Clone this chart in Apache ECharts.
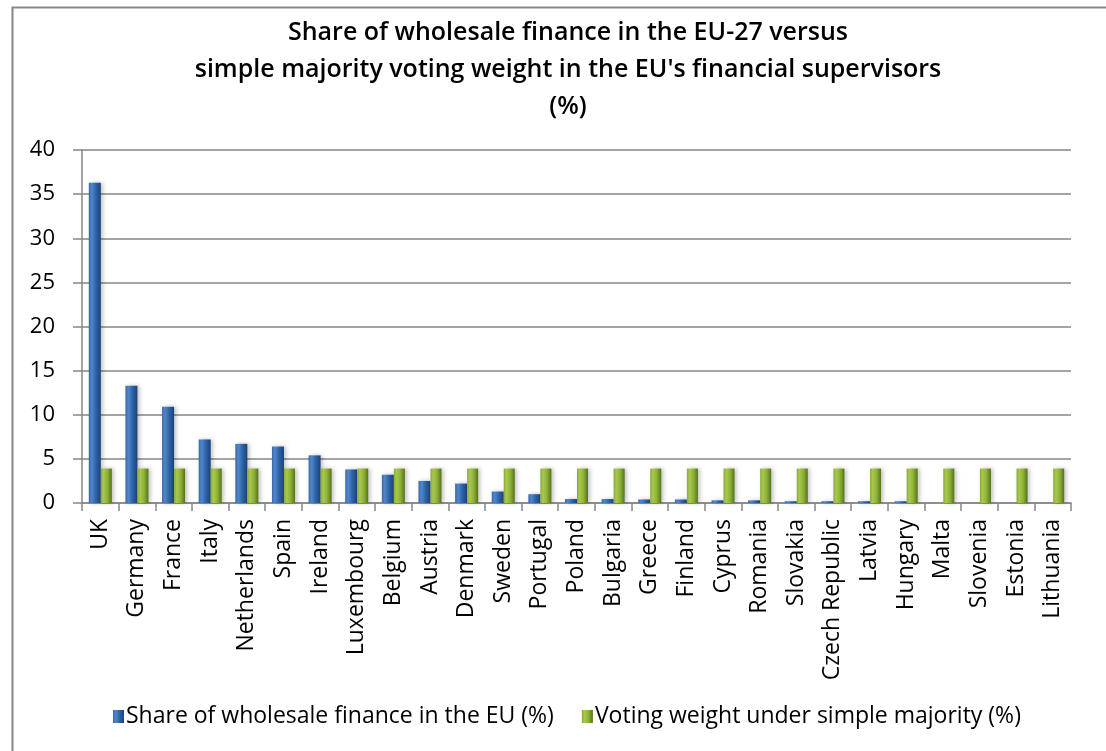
<!DOCTYPE html>
<html>
<head>
<meta charset="utf-8">
<script src="https://cdn.jsdelivr.net/npm/echarts@6/dist/echarts.min.js"></script>
<style>
  html, body { margin: 0; padding: 0; background: #ffffff; }
  #chart { width: 1106px; height: 751px; }
</style>
</head>
<body>
<div id="chart"></div>
<script>
// EU-27 member states, ordered by share of wholesale finance
const countries = ['UK', 'Germany', 'France', 'Italy', 'Netherlands', 'Spain', 'Ireland',
  'Luxembourg', 'Belgium', 'Austria', 'Denmark', 'Sweden', 'Portugal', 'Poland', 'Bulgaria',
  'Greece', 'Finland', 'Cyprus', 'Romania', 'Slovakia', 'Czech Republic', 'Latvia', 'Hungary',
  'Malta', 'Slovenia', 'Estonia', 'Lithuania'];

// Share of wholesale finance in the EU (%)
const wholesaleShare = [36.3, 13.3, 10.9, 7.2, 6.7, 6.4, 5.4, 3.8, 3.2, 2.5, 2.2, 1.3, 1.0,
  0.45, 0.45, 0.4, 0.4, 0.3, 0.3, 0.2, 0.2, 0.2, 0.2, 0, 0, 0, 0];

// Voting weight under simple majority (%) — one vote per member state
const votingWeight = [3.9, 3.9, 3.9, 3.9, 3.9, 3.9, 3.9, 3.9, 3.9, 3.9, 3.9, 3.9, 3.9,
  3.9, 3.9, 3.9, 3.9, 3.9, 3.9, 3.9, 3.9, 3.9, 3.9, 3.9, 3.9, 3.9, 3.9];

const yTicks = [0, 5, 10, 15, 20, 25, 30, 35, 40];

const seriesNames = ['Share of wholesale finance in the EU (%)', 'Voting weight under simple majority (%)'];

const FONT = '"Open Sans"';

function cylinder(edge, light, mid, dark) {
  return new echarts.graphic.LinearGradient(0, 0, 1, 0, [
    { offset: 0, color: edge },
    { offset: 0.25, color: light },
    { offset: 0.6, color: mid },
    { offset: 1, color: dark }
  ]);
}

const chart = echarts.init(document.getElementById('chart'), null, { renderer: 'canvas' });

chart.setOption({
  backgroundColor: '#ffffff',
  animation: false,
  title: {
    text: 'Share of wholesale finance in the EU-27 versus\nsimple majority voting weight in the EU\'s financial supervisors\n(%)',
    left: 563,
    textAlign: 'center',
    top: 9,
    textStyle: {
      fontFamily: FONT,
      fontSize: 25,
      fontWeight: 600,
      color: '#000000',
      lineHeight: 37
    }
  },
  legend: {
    left: 108,
    top: 700,
    itemWidth: 11,
    itemHeight: 13,
    itemGap: 28,
    icon: 'rect',
    textStyle: { fontFamily: FONT, fontSize: 23, color: '#000000', padding: [0, 0, 0, -3] },
    data: seriesNames
  },
  grid: {
    left: 82,
    right: 35,
    top: 150,
    bottom: 248,
    containLabel: false
  },
  xAxis: {
    type: 'category',
    data: countries,
    axisLine: { lineStyle: { color: '#868686', width: 1.5 } },
    axisTick: { show: true, length: 8, lineStyle: { color: '#868686', width: 1.5 } },
    axisLabel: {
      rotate: 90,
      interval: 0,
      margin: 16,
      fontFamily: FONT,
      fontSize: 23,
      color: '#000000'
    },
    splitLine: { show: false }
  },
  yAxis: {
    type: 'value',
    min: yTicks[0],
    max: yTicks[yTicks.length - 1],
    interval: yTicks[1] - yTicks[0],
    axisLine: { show: true, lineStyle: { color: '#868686', width: 1.5 } },
    axisTick: { show: true, length: 9, lineStyle: { color: '#868686', width: 1.5 } },
    axisLabel: {
      margin: 27,
      fontFamily: FONT,
      fontSize: 22,
      color: '#000000'
    },
    splitLine: { show: true, lineStyle: { color: '#868686', width: 1.5 } }
  },
  graphic: [
    {
      type: 'rect',
      left: 10,
      top: 5,
      shape: { width: 1120, height: 770 },
      style: { fill: 'none', stroke: '#868686', lineWidth: 2 },
      silent: true,
      z: 100
    }
  ],
  series: [
    {
      name: seriesNames[0],
      type: 'bar',
      data: wholesaleShare,
      barWidth: 12,
      barGap: '0%',
      itemStyle: {
        color: cylinder('#3a6aa8', '#4f86cc', '#2d62a6', '#1d4274'),
        shadowColor: 'rgba(0,0,0,0.25)',
        shadowBlur: 4,
        shadowOffsetX: 2
      }
    },
    {
      name: seriesNames[1],
      type: 'bar',
      data: votingWeight,
      barWidth: 11,
      barGap: '0%',
      itemStyle: {
        color: cylinder('#8aaa3a', '#a8c84e', '#8db136', '#55721c'),
        shadowColor: 'rgba(0,0,0,0.25)',
        shadowBlur: 4,
        shadowOffsetX: 2
      }
    }
  ]
});
</script>
</body>
</html>
